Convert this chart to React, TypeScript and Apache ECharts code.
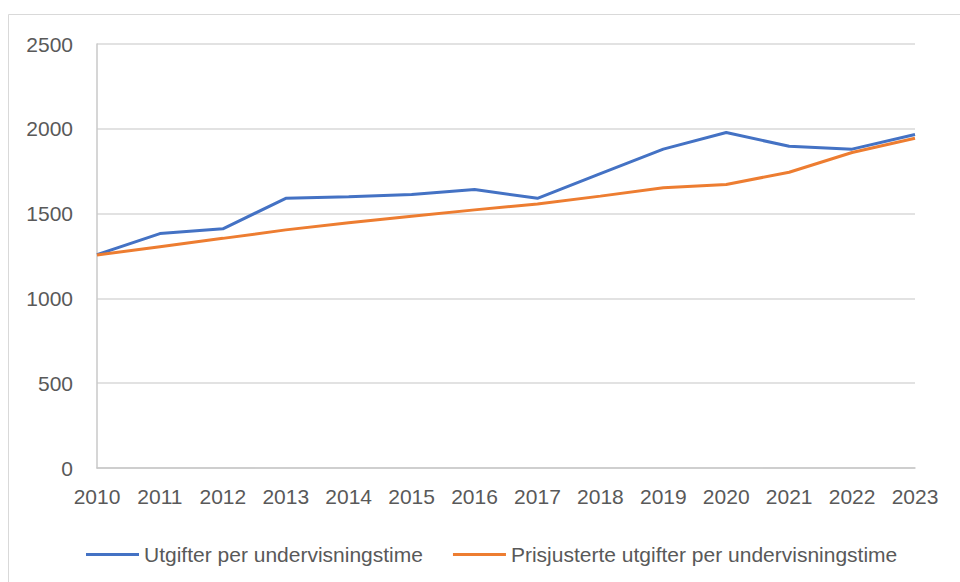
import React, { useEffect, useRef } from "react";
import * as echarts from "echarts";

const years = ["2010","2011","2012","2013","2014","2015","2016","2017","2018","2019","2020","2021","2022","2023"];
const utgifter = [1258, 1382, 1410, 1590, 1600, 1612, 1642, 1590, 1736, 1880, 1978, 1897, 1880, 1966];
const prisjusterte = [1256, 1305, 1354, 1404, 1446, 1485, 1522, 1557, 1603, 1653, 1672, 1744, 1860, 1944];
const yTicks = { min: 0, max: 2500, interval: 500 };
const seriesNames = ["Utgifter per undervisningstime", "Prisjusterte utgifter per undervisningstime"];

const FONT = "'Liberation Sans', Arial, sans-serif";
const TXT = "#595959";
const FS = 21;

export default function App() {
  const ref = useRef<HTMLDivElement>(null);
  useEffect(() => {
    const chart = echarts.init(ref.current!, null, { renderer: "svg" });
    chart.setOption({
      animation: false,
      backgroundColor: "#ffffff",
      textStyle: { fontFamily: FONT },
      graphic: [
        {
          type: "rect",
          shape: { x: 8.5, y: 14.5, width: 960, height: 580 },
          style: { fill: "none", stroke: "#d9d9d9", lineWidth: 1 },
          silent: true,
        },
      ],
      grid: { left: 97, right: 45, top: 44, bottom: 114, containLabel: false },
      legend: {
        left: 81,
        top: 539,
        itemWidth: 53,
        itemHeight: 3,
        itemGap: 30,
        icon: "rect",
        textStyle: { color: TXT, fontSize: FS, fontFamily: FONT },
        data: seriesNames,
      },
      xAxis: {
        type: "category",
        data: years,
        boundaryGap: false,
        axisLine: { show: true, lineStyle: { color: "#c8c8c8", width: 1.5 } },
        axisTick: { show: false },
        axisLabel: { color: TXT, fontSize: FS, fontFamily: FONT, margin: 18 },
        splitLine: { show: false },
      },
      yAxis: {
        type: "value",
        min: yTicks.min,
        max: yTicks.max,
        interval: yTicks.interval,
        axisLine: { show: true, lineStyle: { color: "#c8c8c8", width: 1.5 } },
        axisTick: { show: false },
        axisLabel: {
          color: TXT,
          fontSize: FS,
          fontFamily: FONT,
          margin: 24,
          formatter: (v: number) => String(v),
        },
        splitLine: { show: true, lineStyle: { color: "#d9d9d9", width: 1.5 } },
      },
      series: [
        {
          name: seriesNames[0],
          type: "line",
          data: utgifter,
          showSymbol: false,
          symbol: "none",
          lineStyle: { color: "#4472C4", width: 3 },
          itemStyle: { color: "#4472C4" },
          z: 3,
        },
        {
          name: seriesNames[1],
          type: "line",
          data: prisjusterte,
          showSymbol: false,
          symbol: "none",
          lineStyle: { color: "#ED7D31", width: 3 },
          itemStyle: { color: "#ED7D31" },
          z: 4,
        },
      ],
    });
    return () => chart.dispose();
  }, []);
  return (
    <div
      ref={ref}
      style={{ position: "absolute", left: 0, top: 0, width: 960, height: 582 }}
    />
  );
}
